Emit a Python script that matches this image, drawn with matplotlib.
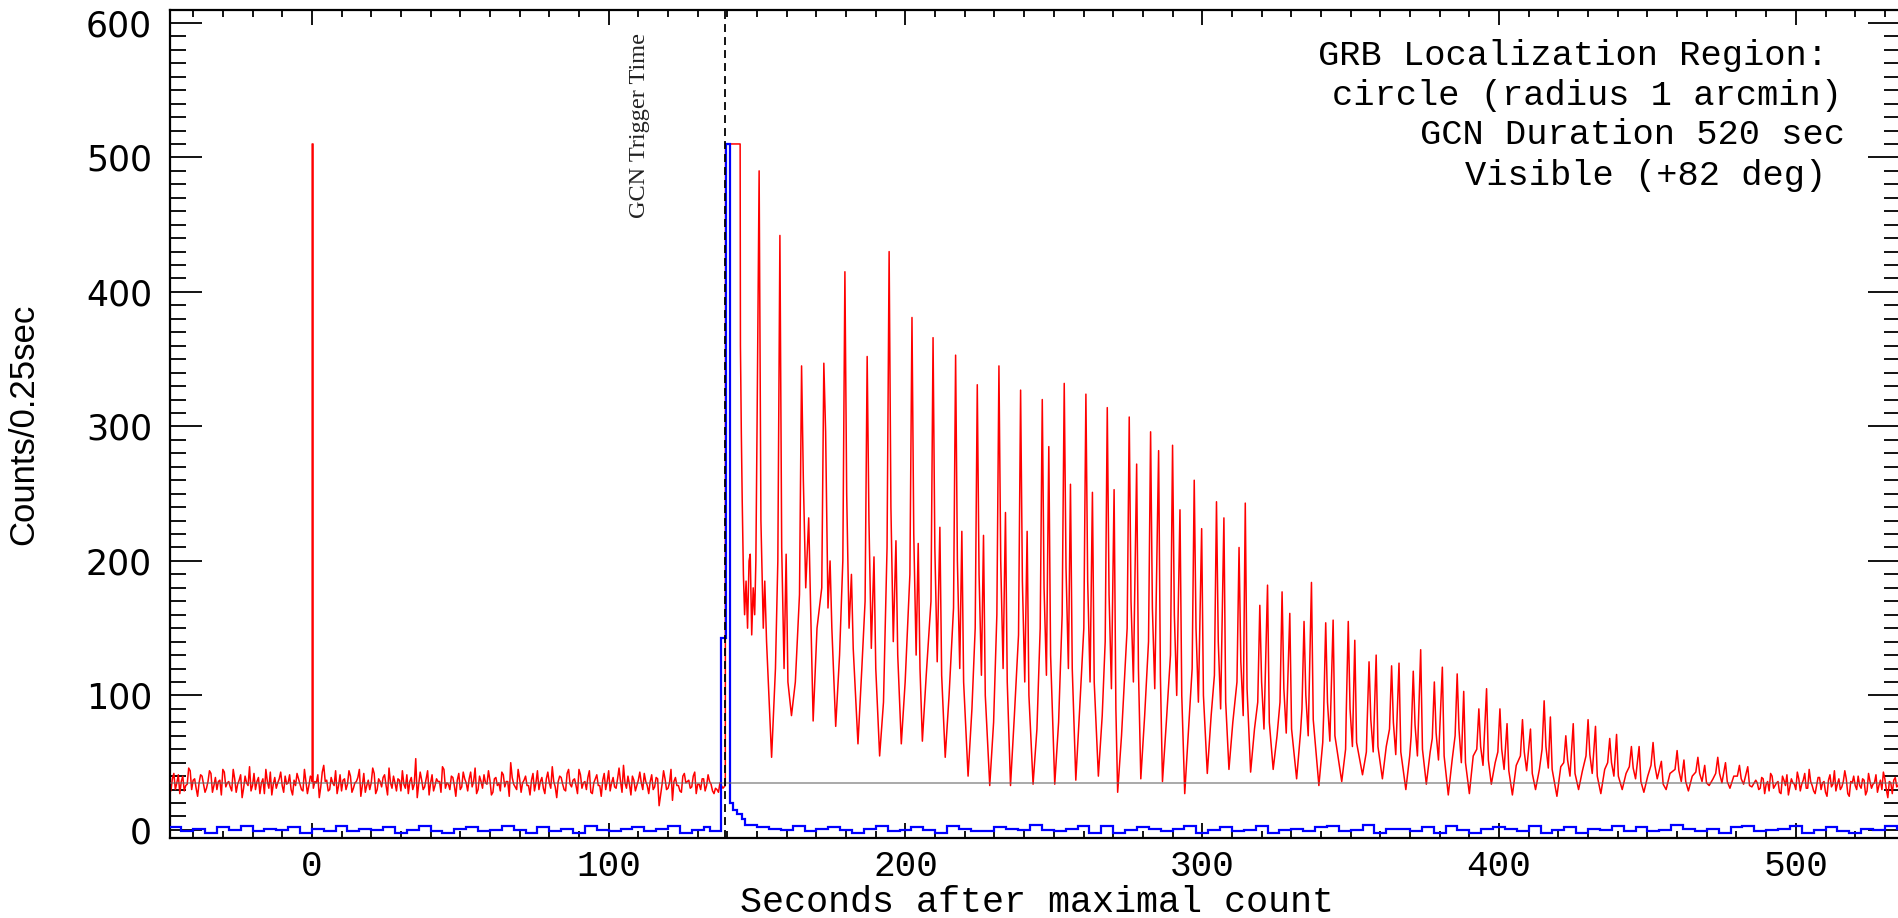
import numpy as np
import matplotlib
matplotlib.use('Agg')
import matplotlib.pyplot as plt
from matplotlib.ticker import MultipleLocator

# ---- red light curve (counts / 0.25 s) ----
# background before the trigger: values on whole seconds (-48 .. 138 s)
bg_v = [33, 38, 30, 41, 36, 29, 34, 44, 37, 31, 35, 40, 28, 36, 42, 33, 30, 37, 45, 32,
        36, 29, 38, 34, 41, 31, 35, 47, 33, 30, 39, 35, 27, 36, 43, 34, 31, 38, 33, 40,
        35, 30, 37, 42, 34, 29, 36, 33, 38, 36, 41, 32, 48, 37, 30, 35, 44, 33, 29, 38,
        34, 40, 31, 36, 45, 33, 28, 37, 35, 42, 30, 36, 39, 33, 46, 31, 35, 38, 29, 34,
        41, 36, 30, 53, 34, 37, 32, 44, 35, 29, 38, 36, 47, 31, 34, 40, 33, 37, 30, 43,
        35, 38, 32, 46, 30, 36, 41, 34, 37, 28, 39, 35, 43, 32, 36, 50, 34, 30, 38, 35,
        40, 33, 37, 29, 44, 36, 31, 38, 35, 47, 32, 36, 39, 30, 42, 34, 37, 33, 45, 31,
        36, 39, 28, 35, 41, 33, 37, 30, 44, 35, 32, 38, 36, 48, 31, 34, 40, 29, 37, 35,
        42, 33, 36, 30, 39, 18, 34, 38, 31, 45, 36, 33, 29, 40, 35, 37, 32, 43, 34, 30,
        38, 33, 36, 29, 31, 28, 33]
# ... and on the half seconds in between
bg_half_v = [29, 42, 35, 27, 40, 33, 46, 30, 38, 25, 41, 34, 31, 44, 28, 39, 36, 26, 43, 35,
             32, 45, 28, 37, 24, 40, 33, 29, 42, 36, 27, 38, 45, 31, 26, 39, 35, 43, 28, 34,
             41, 26, 33, 38, 30, 45, 27, 40, 31, 35, 24, 43, 36, 29, 39, 33, 27, 41, 37, 30,
             44, 28, 35, 39, 25, 42, 33, 30, 46, 27, 38, 32, 41, 26, 35, 40, 29, 37, 44, 31,
             27, 39, 34, 24, 43, 30, 38, 26, 41, 33, 36, 28, 45, 35, 30, 39, 25, 42, 32, 38,
             29, 43, 36, 27, 40, 31, 35, 44, 26, 38, 33, 29, 41, 36, 25, 39, 32, 45, 28, 37,
             33, 26, 42, 35, 30, 39, 27, 43, 31, 36, 24, 40, 34, 29, 45, 32, 38, 27, 41, 35,
             30, 44, 27, 38, 33, 25, 42, 36, 29, 39, 31, 46, 28, 35, 40, 26, 37, 33, 43, 30,
             36, 27, 41, 32, 38, 26, 44, 30, 35, 22, 39, 33, 28, 42, 36, 31, 40, 27, 34, 38,
             29, 41, 34, 27, 30, 35, 31]
bg_t = np.arange(-48, -48 + len(bg_v))

# saturated bin at the maximal count
spike_t = [0.1, 0.1, 0.4, 0.4]
spike_v = [36, 510, 510, 37]

# burst onset
onset_t = [139.3, 139.4, 144.3, 144.4, 144.7, 145.0, 145.4, 145.8, 146.3, 146.8,
           147.3, 147.7, 148.2, 148.7, 149.2, 149.6]
onset_v = [33, 510, 510, 360, 295, 245, 190, 160, 185, 150,
           200, 205, 145, 180, 160, 200]

# spin-modulated pulses: main peak, secondary peak and trough of each cycle
main_t = [150.7, 157.7, 165.0, 172.5, 179.6, 187.1, 194.5, 202.2, 209.3, 216.9,
          224.2, 231.5, 238.8, 246.1, 253.5, 260.8, 268.0, 275.4, 282.6, 290.0,
          297.3, 304.8, 312.4, 319.4, 326.9, 334.3, 341.6, 349.2, 356.2, 363.8,
          371.1, 378.2, 385.9, 393.2, 400.3, 407.9, 415.2, 422.5, 430.0, 437.3,
          444.6, 451.9, 460.0, 467.0, 473.7, 481.0]
main_v = [490, 442, 345, 347, 415, 352, 430, 381, 366, 353,
          331, 345, 327, 320, 332, 324, 314, 307, 296, 286,
          260, 244, 210, 167, 177, 155, 154, 155, 125, 122,
          118, 110, 116, 90, 90, 82, 96, 70, 82, 68,
          62, 65, 59, 54, 54, 48]
sec_t = [152.6, 159.8, 167.4, 174.6, 181.8, 189.4, 196.8, 204.3, 211.6, 219.0,
         226.3, 233.7, 241.0, 248.3, 255.6, 263.0, 270.3, 277.9, 285.3, 292.5,
         299.8, 307.3, 314.5, 322.0, 329.5, 336.8, 344.1, 351.4, 358.6, 366.3,
         373.6, 380.9, 388.1, 395.8, 402.7, 410.6, 417.3, 425.0, 432.5, 439.6,
         447.2, 454.7, 462.3, 469.3, 476.3, 483.8]
sec_v = [185, 205, 232, 200, 190, 203, 215, 213, 225, 222,
         219, 236, 222, 285, 257, 251, 253, 272, 282, 238,
         224, 232, 243, 182, 161, 184, 156, 141, 130, 124,
         134, 121, 103, 105, 79, 75, 84, 79, 77, 71,
         62, 51, 52, 48, 50, 47]
trough_t = [154.9, 161.6, 168.9, 176.5, 184.0, 191.3, 198.6, 205.7, 213.4, 221.1,
            228.4, 235.4, 243.0, 250.3, 257.4, 265.0, 271.5, 279.3, 286.6, 294.1,
            301.7, 309.0, 316.3, 323.9, 331.8, 339.3, 347.0, 354.0, 360.7, 368.6,
            375.5, 382.9, 390.0, 397.4, 404.5, 412.3, 419.5, 426.8, 434.3, 441.5,
            448.8, 456.3, 463.8, 470.8, 477.8, 485.2]
trough_v = [54, 85, 81, 77, 64, 55, 64, 66, 54, 40,
            33, 33, 34, 34, 37, 40, 28, 38, 36, 27,
            42, 45, 43, 45, 38, 33, 36, 41, 38, 30,
            34, 26, 27, 34, 26, 30, 25, 30, 27, 30,
            28, 30, 29, 33, 31, 32]
# levels just before each main peak, just after it, in the dip, after the
# secondary peak and on the slow rise after the trough
base_v = [300, 200, 175, 180, 200, 170, 210, 190, 170, 165,
          150, 160, 145, 150, 160, 150, 140, 150, 140, 130,
          120, 115, 110, 95, 95, 90, 85, 85, 75, 75,
          70, 68, 70, 60, 58, 55, 60, 50, 55, 50,
          47, 48, 45, 43, 42, 40]
fall_v = [230, 210, 260, 296, 250, 230, 240, 220, 210, 200,
          190, 200, 185, 180, 195, 185, 175, 170, 165, 160,
          150, 140, 125, 110, 105, 100, 95, 90, 82, 80,
          78, 72, 75, 62, 60, 58, 62, 52, 56, 50,
          46, 48, 44, 42, 42, 38]
dip_v = [150, 120, 180, 165, 150, 135, 140, 130, 125, 120,
         115, 120, 110, 115, 120, 110, 105, 110, 105, 100,
         95, 90, 85, 75, 72, 70, 66, 62, 58, 56,
         55, 52, 50, 48, 45, 44, 46, 40, 42, 40,
         38, 38, 36, 36, 35, 34]
tail_v = [140, 110, 170, 150, 135, 120, 130, 120, 115, 110,
          100, 110, 100, 130, 120, 110, 90, 120, 115, 100,
          100, 95, 105, 80, 75, 82, 70, 65, 62, 58,
          60, 55, 50, 52, 44, 42, 45, 42, 40, 40,
          36, 34, 36, 35, 36, 33]
low_v = [120, 110, 150, 130, 120, 95, 110, 115, 100, 90,
         80, 85, 75, 80, 90, 85, 70, 85, 80, 75,
         85, 80, 75, 70, 72, 65, 60, 58, 62, 55,
         58, 52, 55, 50, 48, 45, 47, 44, 45, 42,
         40, 42, 40, 38, 40, 37]

# background after the burst: whole seconds from 487 s, and half seconds
end_v = [35, 31, 38, 34, 29, 40, 33, 36, 27, 37, 41, 32, 35, 30, 38, 34, 42, 31, 36, 29,
         33, 39, 35, 28, 37, 32, 44, 34, 30, 36, 38, 25, 35, 33, 40, 31, 37, 29, 36, 34,
         41, 33, 30, 38, 24, 35, 37, 32, 39, 34]
end_half_v = [30, 39, 27, 36, 42, 31, 35, 28, 40, 33, 26, 38, 34, 43, 29, 37, 31, 45, 33, 27,
              39, 30, 36, 25, 41, 34, 29, 38, 32, 44, 27, 36, 40, 30, 33, 38, 26, 42, 31, 35,
              28, 37, 43, 30, 36, 27, 39, 33, 29, 36]
end_t = np.arange(487, 487 + len(end_v))

# ---- blue light curve (second detector), 2 s bins, counts = digit - 4 ----
blue_pre = "6633552266" "4477335544" "6622553377" "3355446622" "4477332255" \
           "6633447744" "2266335522" "7744335566" "3355772244" "633"
blue_spike_edges = [138.0, 139.4, 140.8, 142.0, 143.2, 145.0, 146.0]
blue_spike_v = [143, 510, 20, 15, 12, 8]
blue_post = "8866554477" "3355664422" "5577334466" "4422775533" "3366554488" \
            "4433557722" "7722446655" "3355772244" "6633447722" "4455336677" \
            "3344882255" "5533662277" "4422556655" "3377224466" "2255447733" \
            "6633448855" "3355226677" "3344557722" "4466332255" "44775"

trigger_t = 139.2
background = 35

# assemble red polyline
mt = np.array(main_t)
st = np.array(sec_t)
tt = np.array(trough_t)
red_t = np.concatenate([bg_t, bg_t + 0.5, spike_t, onset_t, mt - 0.7, mt, mt + 0.6,
                        mt + 1.4, st, st + 0.6, tt, tt + 1.3, end_t, end_t + 0.5])
red_v = np.concatenate([bg_v, bg_half_v, spike_v, onset_v, base_v, main_v, fall_v,
                        dip_v, sec_v, tail_v, trough_v, low_v, end_v, end_half_v])
order = np.argsort(red_t, kind='stable')
red_t, red_v = red_t[order], red_v[order]

# assemble blue steps
pre_v = [int(c) - 4 for c in blue_pre]
post_v = [int(c) - 4 for c in blue_post]
pre_edges = -48 + 2 * np.arange(len(pre_v) + 1)
post_edges = 146 + 2 * np.arange(len(post_v) + 1)
blue_edges = np.concatenate([pre_edges, blue_spike_edges[1:], post_edges[1:]])
blue_v = np.concatenate([pre_v, blue_spike_v, post_v])

W, H = 1898, 918
fig = plt.figure(figsize=(W / 100, H / 100), dpi=100)
ax = fig.add_axes([170 / W, 80 / H, 1730 / W, 828 / H])

ax.plot(red_t, red_v, color='red', lw=1.1, zorder=2)
ax.stairs(blue_v, blue_edges, color='blue', lw=1.6, zorder=3)
ax.axhline(background, color='0.4', lw=1.3, alpha=0.6, zorder=4)
ax.axvline(trigger_t, color='k', lw=1.3, ls=(0, (4.4, 2.8)), zorder=5)

ax.set_xlim(-47.8, 535.1)
ax.set_ylim(-6, 609.6)

ax.xaxis.set_major_locator(MultipleLocator(100))
ax.xaxis.set_minor_locator(MultipleLocator(10))
ax.yaxis.set_major_locator(MultipleLocator(100))
ax.yaxis.set_minor_locator(MultipleLocator(10))
ax.tick_params(which='both', direction='in', top=True, right=True, width=1.3)
ax.tick_params(axis='x', which='major', length=11, pad=8)
ax.tick_params(axis='x', which='minor', length=5)
ax.tick_params(axis='y', which='major', length=23, pad=13)
ax.tick_params(axis='y', which='minor', length=11.5)
for s in ax.spines.values():
    s.set_linewidth(1.6)

for lab in ax.get_xticklabels():
    lab.set_family(['Liberation Mono', 'DejaVu Sans Mono'])
    lab.set_fontsize(26)
for lab in ax.get_yticklabels():
    lab.set_family(['DejaVu Sans'])
    lab.set_fontsize(25)

fig.text(1037 / W, 1 - 912 / H, 'Seconds after maximal count', ha='center', va='baseline',
         family=['Liberation Mono', 'DejaVu Sans Mono'], fontsize=26.5)
fig.text(24 / W, 1 - 424 / H, 'Counts/0.25sec', rotation=90, ha='center', va='center',
         family=['Liberation Sans', 'DejaVu Sans'], fontsize=25)
fig.text(640 / W, 1 - 125 / H, 'GCN Trigger Time', rotation=90, ha='center', va='center',
         family=['Liberation Serif', 'DejaVu Serif'], fontsize=17.5, color='#222222')

info_lines = ['GRB Localization Region:', 'circle (radius 1 arcmin)',
              'GCN Duration 520 sec', 'Visible (+82 deg)']
info_right = [1828, 1842, 1845, 1826]
info_y = [55, 95, 135, 175]
for txt, xr, yc in zip(info_lines, info_right, info_y):
    fig.text(xr / W, 1 - yc / H, txt, ha='right', va='center',
             family=['Liberation Mono', 'DejaVu Sans Mono'], fontsize=25.5)

fig.savefig('out.png', dpi=100)
